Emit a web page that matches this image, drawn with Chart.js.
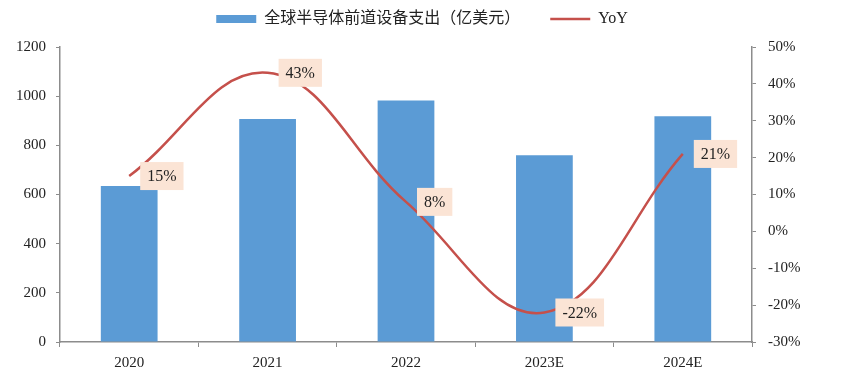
<!DOCTYPE html>
<html lang="zh">
<head>
    <meta charset="UTF-8">
    <title>全球半导体前道设备支出</title>
    <style>
        body {
            margin: 0;
            padding: 0;
            background: #fff;
            overflow: hidden;
        }
        .wrap {
            width: 864px;
            height: 380px;
        }
    </style>
</head>
<body>
    <div class="wrap">
        <canvas id="chart" width="864" height="380"></canvas>
    </div>
    <script src="https://cdn.jsdelivr.net/npm/chart.js@4/dist/chart.umd.min.js"></script>
    <script>
        const years = ['2020', '2021', '2022', '2023E', '2024E'];
        const spending = [635, 907, 982, 760, 918];
        const yoy = [15, 43, 8, -22, 21];
        const spendingLabel = '全球半导体前道设备支出（亿美元）';
        const yoyLabel = 'YoY';

        const FONT = '"Liberation Serif", "Times New Roman", "Noto Sans CJK SC", serif';
        const axisGray = '#8c8c8c';
        const textColor = '#222';

        // boxes with the yoy values, drawn to the right of each point
        const yoyLabels = {
            id: 'yoyLabels',
            afterDatasetsDraw(chart) {
                const ctx = chart.ctx;
                const meta = chart.getDatasetMeta(1);
                ctx.save();
                ctx.font = '16px ' + FONT;
                ctx.textBaseline = 'middle';
                meta.data.forEach((pt, i) => {
                    const txt = yoy[i] + '%';
                    const w = ctx.measureText(txt).width + 14;
                    const h = 28;
                    const x = pt.x + 11;
                    const y = pt.y - h / 2;
                    ctx.fillStyle = '#fbe4d5';
                    ctx.fillRect(x, y, w, h);
                    ctx.fillStyle = textColor;
                    ctx.fillText(txt, x + 7, pt.y + 1);
                });
                ctx.restore();
            }
        };

        // legend keeps its wide gap between items but less height,
        // and sits a little left of the canvas centre
        const legendFit = {
            id: 'legendFit',
            beforeInit(chart) {
                const fit = chart.legend.fit;
                chart.legend.fit = function () {
                    fit.call(this);
                    this.height += 10;
                };
            },
            afterLayout(chart) {
                chart.legend.right -= 20;
            }
        };

        const ctx = document.getElementById('chart').getContext('2d');
        new Chart(ctx, {
            data: {
                labels: years,
                datasets: [{
                    type: 'bar',
                    label: spendingLabel,
                    data: spending,
                    backgroundColor: '#5b9bd5',
                    borderWidth: 0,
                    barPercentage: 0.41,
                    categoryPercentage: 1,
                    yAxisID: 'y',
                    pointStyle: 'rect',
                    order: 1
                }, {
                    type: 'line',
                    label: yoyLabel,
                    data: yoy,
                    borderColor: '#c5504b',
                    backgroundColor: '#c5504b',
                    borderWidth: 2.5,
                    tension: 0.4,
                    pointRadius: 0,
                    pointStyle: 'line',
                    yAxisID: 'y1',
                    order: 0
                }]
            },
            options: {
                responsive: false,
                animation: false,
                layout: {
                    padding: { top: -19, left: 0, right: 0, bottom: 0 }
                },
                plugins: {
                    tooltip: { enabled: false },
                    legend: {
                        position: 'top',
                        labels: {
                            usePointStyle: true,
                            pointStyleWidth: 40,
                            boxHeight: 8,
                            padding: 30,
                            color: textColor,
                            font: { family: FONT, size: 16 },
                            sort: (a, b) => a.datasetIndex - b.datasetIndex,
                            generateLabels(chart) {
                                const items = Chart.defaults.plugins.legend.labels.generateLabels(chart);
                                items.forEach(it => {
                                    if (it.datasetIndex === 0) {
                                        it.fillStyle = '#5b9bd5';
                                        it.strokeStyle = '#5b9bd5';
                                        it.lineWidth = 0;
                                        it.pointStyle = 'rect';
                                    } else {
                                        it.strokeStyle = '#c5504b';
                                        it.lineWidth = 2.5;
                                        it.pointStyle = 'line';
                                    }
                                });
                                return items;
                            }
                        }
                    }
                },
                scales: {
                    x: {
                        offset: true,
                        grid: {
                            display: true,
                            offset: true,
                            drawOnChartArea: false,
                            tickLength: 5,
                            color: axisGray
                        },
                        border: { color: axisGray, width: 1.5 },
                        ticks: {
                            color: textColor,
                            padding: 7,
                            font: { family: FONT, size: 15 }
                        },
                        afterFit(scale) { scale.height = 38; }
                    },
                    y: {
                        position: 'left',
                        min: 0,
                        max: 1200,
                        ticks: {
                            stepSize: 200,
                            color: textColor,
                            padding: 10,
                            font: { family: FONT, size: 15 },
                            callback: v => String(v)
                        },
                        grid: {
                            drawOnChartArea: false,
                            tickLength: 4,
                            color: axisGray
                        },
                        border: { color: axisGray, width: 1.5 },
                        afterFit(scale) { scale.width = 60; }
                    },
                    y1: {
                        position: 'right',
                        min: -30,
                        max: 50,
                        ticks: {
                            stepSize: 10,
                            color: textColor,
                            padding: 12,
                            font: { family: FONT, size: 15 },
                            callback: v => v + '%'
                        },
                        grid: {
                            drawOnChartArea: false,
                            tickLength: 4,
                            color: axisGray
                        },
                        border: { color: axisGray, width: 1.5 },
                        afterFit(scale) { scale.width = 112; }
                    }
                }
            },
            plugins: [yoyLabels, legendFit]
        });
    </script>
</body>
</html>
